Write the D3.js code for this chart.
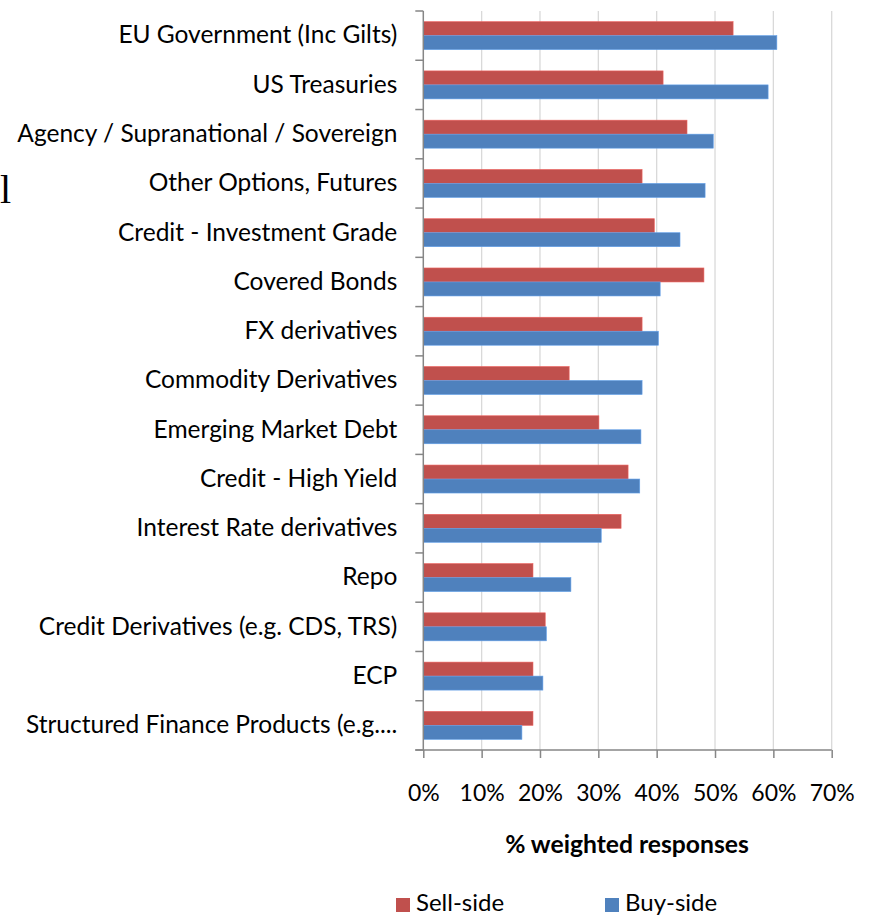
<!DOCTYPE html>
<html>
<head>
<meta charset="utf-8">
<script src="https://cdn.jsdelivr.net/npm/d3@7"></script>
<style>
  body { margin: 0; background: #fff; }
  svg { font-family: Lato, "Open Sans", sans-serif; }
</style>
</head>
<body>
<script>
// categories top to bottom
var categories = [
  "EU Government (Inc Gilts)",
  "US Treasuries",
  "Agency / Supranational / Sovereign",
  "Other Options, Futures",
  "Credit - Investment Grade",
  "Covered Bonds",
  "FX derivatives",
  "Commodity Derivatives",
  "Emerging Market Debt",
  "Credit - High Yield",
  "Interest Rate derivatives",
  "Repo",
  "Credit Derivatives (e.g. CDS, TRS)",
  "ECP",
  "Structured Finance Products (e.g...."
];
var sellSide = [53.1, 41.1, 45.2, 37.5, 39.6, 48.1, 37.5, 25.0, 30.1, 35.1, 33.9, 18.8, 20.9, 18.8, 18.8];
var buySide  = [60.6, 59.1, 49.7, 48.3, 44.0, 40.6, 40.3, 37.5, 37.3, 37.1, 30.5, 25.3, 21.1, 20.5, 16.9];
var xTicks = [0, 10, 20, 30, 40, 50, 60, 70];
var seriesNames = ["Sell-side", "Buy-side"];
var colors = ["#C0504D", "#4F81BD"];

var width = 869, height = 916;
var plotLeft = 423.3, plotRight = 831.7, plotTop = 11, plotBottom = 750;

var svg = d3.select("body").append("svg")
  .attr("width", width)
  .attr("height", height);

var x = d3.scaleLinear().domain([0, 70]).range([plotLeft, plotRight]);
var y = d3.scaleBand().domain(categories).range([plotTop, plotBottom]);
var inner = d3.scaleBand().domain([0, 1]).range([0, y.bandwidth()]).paddingOuter(0.76);

// stray glyph at the left edge
svg.append("text")
  .attr("x", 0)
  .attr("y", 203)
  .style("font-family", "'Liberation Serif', serif")
  .style("font-size", "40px")
  .text("l");

// gridlines
svg.append("g").selectAll("line")
  .data(xTicks.slice(1))
  .enter().append("line")
  .attr("x1", d => x(d)).attr("x2", d => x(d))
  .attr("y1", plotTop).attr("y2", plotBottom)
  .attr("stroke", "#D9D9D9")
  .attr("stroke-width", 1.3);

// bars
var rows = svg.append("g").selectAll("g")
  .data(categories)
  .enter().append("g")
  .attr("transform", d => "translate(0," + y(d) + ")");

[sellSide, buySide].forEach(function(vals, s) {
  rows.append("rect")
    .attr("x", x(0))
    .attr("y", inner(s))
    .attr("width", (d, i) => x(vals[i]) - x(0))
    .attr("height", inner.bandwidth())
    .attr("fill", colors[s])
    .attr("stroke", d3.color(colors[s]).brighter(0.6))
    .attr("stroke-width", 0.6);
});

// y axis labels
var yAxis = svg.append("g")
  .attr("transform", "translate(" + plotLeft + ",0)")
  .call(d3.axisLeft(y).tickSize(0).tickPadding(26))
  .attr("font-family", null)
  .attr("font-size", null);
yAxis.select(".domain").remove();
yAxis.selectAll("text")
  .attr("dy", "0.32em")
  .style("font-size", "24.5px")
  .style("fill", "#000");

// y axis line + ticks at band boundaries
svg.append("line")
  .attr("x1", plotLeft).attr("x2", plotLeft)
  .attr("y1", plotTop).attr("y2", plotBottom)
  .attr("stroke", "#868686").attr("stroke-width", 1.5);
svg.append("g").selectAll("line")
  .data(d3.range(categories.length + 1))
  .enter().append("line")
  .attr("x1", plotLeft - 8).attr("x2", plotLeft)
  .attr("y1", i => plotTop + i * y.step()).attr("y2", i => plotTop + i * y.step())
  .attr("stroke", "#868686").attr("stroke-width", 1.5);

// x axis
var xAxis = svg.append("g")
  .attr("transform", "translate(0," + plotBottom + ")")
  .call(d3.axisBottom(x).tickValues(xTicks).tickSize(8).tickPadding(27).tickFormat(d => d + "%"))
  .attr("font-family", null)
  .attr("font-size", null);
xAxis.select(".domain")
  .attr("d", "M" + (plotLeft - 8) + ",0H" + plotRight)
  .attr("stroke", "#868686").attr("stroke-width", 1.5);
xAxis.selectAll(".tick line").attr("stroke", "#868686").attr("stroke-width", 1.5);
xAxis.selectAll("text")
  .style("font-size", "23px")
  .style("fill", "#000");

// axis title
svg.append("text")
  .attr("x", 627)
  .attr("y", 853)
  .attr("text-anchor", "middle")
  .style("font-size", "24.7px")
  .style("font-weight", "bold")
  .text("% weighted responses");

// legend
var legendX = [396, 605];
var legend = svg.append("g").selectAll("g")
  .data(seriesNames)
  .enter().append("g")
  .attr("transform", (d, i) => "translate(" + legendX[i] + ",898)");
legend.append("rect")
  .attr("width", 14).attr("height", 14)
  .attr("fill", (d, i) => colors[i]);
legend.append("text")
  .attr("x", 20)
  .attr("y", 13)
  .style("font-size", "24px")
  .text(d => d);
</script>
</body>
</html>
